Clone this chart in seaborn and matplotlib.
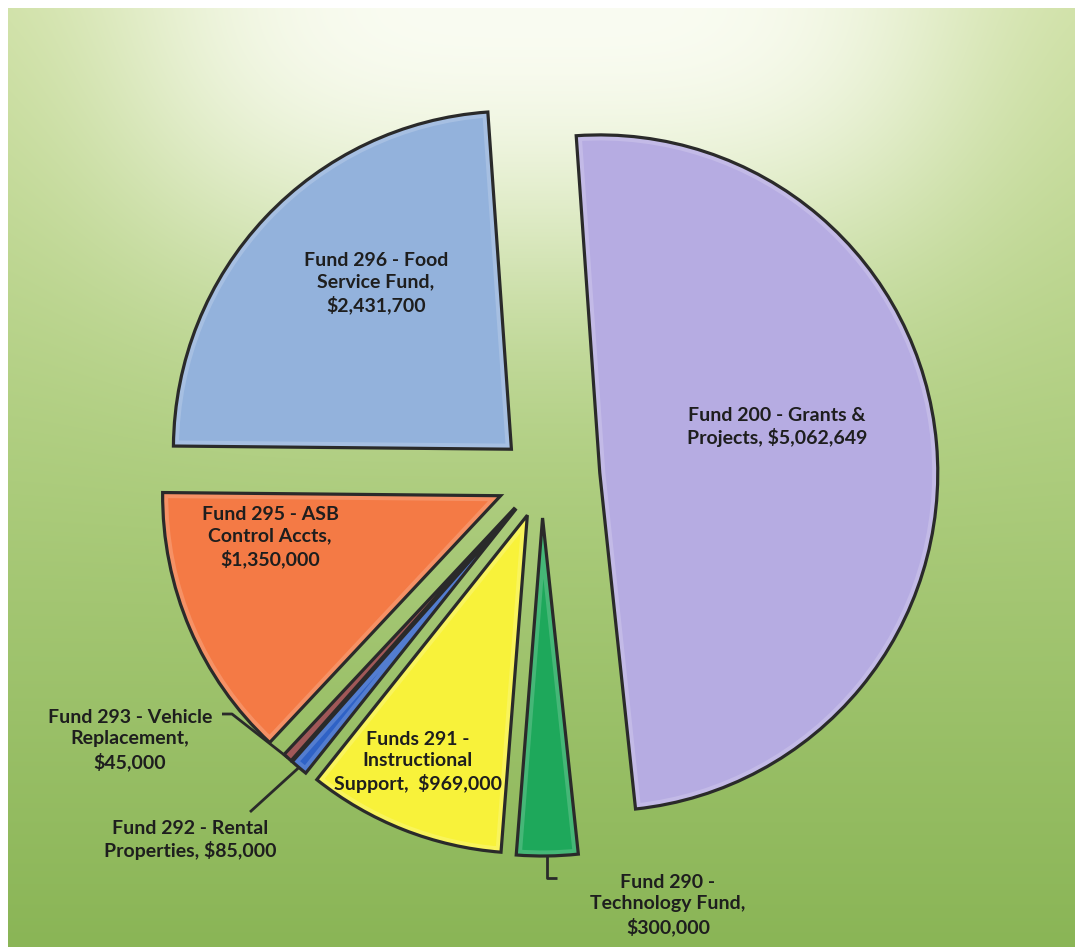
import numpy as np
import matplotlib
matplotlib.use("Agg")
import matplotlib.pyplot as plt
import matplotlib.colors as mcolors
from matplotlib.patches import Wedge
import seaborn as sns

# Special revenue funds, clockwise from the top
funds = [
    "Fund 200 - Grants & Projects",
    "Fund 290 - Technology Fund",
    "Funds 291 - Instructional Support",
    "Fund 292 - Rental Properties",
    "Fund 293 - Vehicle Replacement",
    "Fund 295 - ASB Control Accts",
    "Fund 296 - Food Service Fund",
]
amounts = [5062649, 300000, 969000, 85000, 45000, 1350000, 2431700]
slice_labels = [
    "Fund 200 - Grants &\nProjects, $5,062,649",
    "Fund 290 -\nTechnology Fund,\n$300,000",
    "Funds 291 -\nInstructional\nSupport,  $969,000",
    "Fund 292 - Rental\nProperties, $85,000",
    "Fund 293 - Vehicle\nReplacement,\n$45,000",
    "Fund 295 - ASB\nControl Accts,\n$1,350,000",
    "Fund 296 - Food\nService Fund,\n$2,431,700",
]
slice_colors = ["#b6ace2", "#1ea85b", "#f8f23a", "#2f62c6",
                "#8c3535", "#f47a45", "#93b2dc"]

sns.set_theme(style="white")
plt.rcParams["font.family"] = ["Lato", "DejaVu Sans"]

W, H = 1075, 947
fig = plt.figure(figsize=(W / 100, H / 100), dpi=100)
fig.patch.set_facecolor("white")

# ---- green gradient backdrop with a pale glow at the top centre ----
bg = fig.add_axes([8 / W, 0, 1 - 8 / W, 1 - 8 / H])
v, u = np.mgrid[0:1:300j, 0:1:400j]
top = np.array([206, 224, 164]) / 255
mid = np.array([172, 204, 124]) / 255
bot = np.array([138, 181, 86]) / 255
glow = np.array([250, 252, 242]) / 255
t1 = np.clip(v / 0.5, 0, 1)[..., None]
t2 = np.clip((v - 0.5) / 0.5, 0, 1)[..., None]
base = np.where(v[..., None] < 0.5, top + (mid - top) * t1, mid + (bot - mid) * t2)
wgt = (np.exp(-((u - 0.5) / 0.40) ** 4) * np.exp(-(v / 0.28) ** 2))[..., None]
img = base * (1 - wgt) + glow * wgt
bg.imshow(img, aspect="auto", extent=[0, 1, 1, 0], interpolation="bilinear")
bg.axis("off")

# ---- exploded pie ----
ax = fig.add_axes([0, 0, 1, 1])
ax.patch.set_alpha(0)
cx, cy, R = 542, 478, 338
explode = [58, 40, 40, 40, 40, 45, 42]
wedges, _ = ax.pie(amounts, colors=slice_colors, explode=explode,
                   startangle=94, counterclock=False, radius=R,
                   center=(cx, H - cy),
                   wedgeprops=dict(linewidth=0))

# soft bevel: a pale rim just inside each dark outline
for w in wedges:
    base_col = np.array(mcolors.to_rgb(w.get_facecolor()))
    light = base_col + (1 - base_col) * 0.35
    rim = Wedge(w.center, w.r, w.theta1, w.theta2, fc="none",
                ec=light, lw=8, alpha=0.5, zorder=2)
    ax.add_patch(rim)
    rim.set_clip_path(w)
    ax.add_patch(Wedge(w.center, w.r, w.theta1, w.theta2, fc="none",
                       ec="#2a2a2a", lw=2.3, zorder=3))

ax.set_xlim(0, W)
ax.set_ylim(0, H)
ax.set_aspect("auto")
ax.axis("off")

txt = dict(fontsize=14, fontweight="bold", color="#1e1e1e",
           ha="center", va="center", linespacing=1.3, zorder=5)


def tip(i, frac=1.0):
    w = wedges[i]
    a = np.deg2rad((w.theta1 + w.theta2) / 2)
    return w.center[0] + frac * w.r * np.cos(a), w.center[1] + frac * w.r * np.sin(a)


# labels inside the large slices
ax.text(777, H - 427, slice_labels[0], **txt)
ax.text(418, H - 762, slice_labels[2], **txt)
ax.text(270, H - 537, slice_labels[5], **txt)
ax.text(376, H - 283, slice_labels[6], **txt)

# labels with leader lines for the small slices
lc = dict(color="#2a2a2a", lw=2, zorder=4, solid_capstyle="butt")
x4, y4 = tip(4)
ax.plot([x4, 232, 222], [y4, H - 714, H - 714], **lc)
ax.text(130, H - 740, slice_labels[4], **txt)

x3, y3 = tip(3)
ax.plot([x3, 250], [y3, H - 812], **lc)
ax.text(190, H - 840, slice_labels[3], **txt)

x1, y1 = tip(1)
ax.plot([x1, x1, x1 + 10], [y1, H - 878, H - 878], **lc)
ax.text(668, H - 905, slice_labels[1], **txt)

fig.savefig("out.png", dpi=100, facecolor=fig.get_facecolor())
